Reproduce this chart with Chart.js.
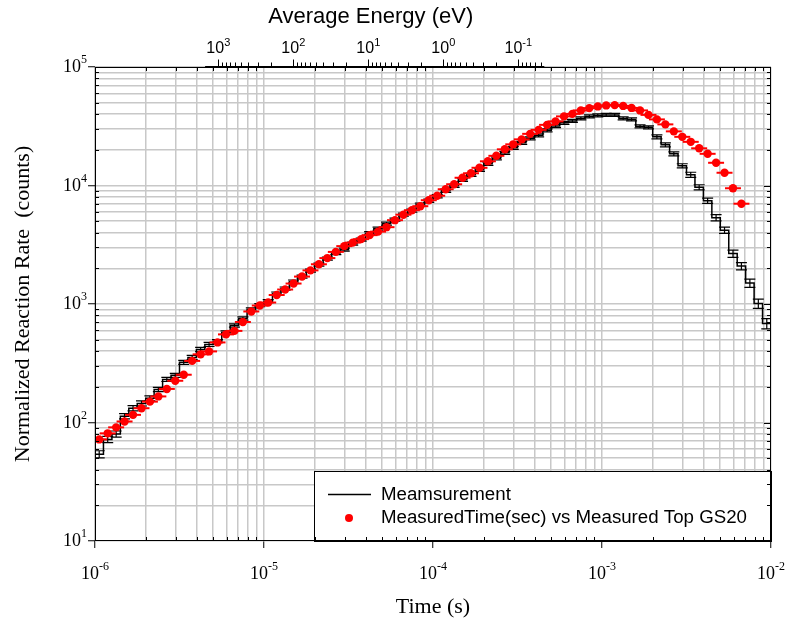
<!DOCTYPE html>
<html>
<head>
<meta charset="utf-8">
<script src="https://cdn.jsdelivr.net/npm/chart.js@4.4.1/dist/chart.umd.min.js"></script>
<style>
  html, body { margin: 0; padding: 0; background: #fff; }
</style>
</head>
<body>
<canvas id="chartCanvas" width="786" height="622"></canvas>
<script>
// time bins: 20 log-spaced bins per decade, centre mantissas
const binMantissa = [1.059, 1.189, 1.334, 1.496, 1.679, 1.884, 2.113, 2.371, 2.661, 2.985,
                     3.350, 3.758, 4.217, 4.732, 5.309, 5.957, 6.683, 7.499, 8.414, 9.441];
const binDecades = [-6, -5, -4, -3];

// black stepped curve (Meamsurement)
const measuredCounts = [
  54, 72, 80, 113, 132, 145, 160, 190, 231, 250,
  322, 354, 414, 456, 486, 575, 659, 755, 899, 977,
  1056, 1226, 1351, 1547, 1704, 1915, 2151, 2417, 2688, 2876,
  3232, 3493, 3963, 4323, 4763, 5148, 5672, 6130, 6884, 7439,
  8120, 9032, 9952, 11180, 12320, 13570, 15250, 16960, 18870, 20790,
  22910, 25000, 26500, 29200, 31800, 33770, 35100, 36840, 38300, 39050,
  39430, 39430, 36840, 36130, 31540, 30940, 25740, 22040, 18510, 14670,
  12320, 9667, 7439, 5350, 4200, 2662, 2089, 1503, 1010, 685
];
// error of the measurement, percent
const measuredErrPct = [
  7, 6, 6, 5, 5, 5, 5, 4, 4, 4,
  4, 4, 4, 4, 3, 3, 3, 3, 3, 3,
  3, 3, 3, 3, 3, 3, 3, 3, 3, 3,
  3, 3, 3, 3, 3, 3, 3, 3, 3, 3,
  3, 3, 3, 3, 3, 3, 3, 3, 3, 3,
  3, 3, 3, 3, 3, 3, 3, 3, 3, 3,
  3, 3, 3, 3, 3, 3, 4, 4, 4, 4,
  5, 5, 5, 6, 6, 7, 7, 8, 9, 10
];

// red points (MeasuredTime(sec) vs Measured Top GS20)
const gs20Counts = [
  72, 81, 91, 102, 116, 132, 150, 166, 192, 225,
  253, 331, 376, 398, 474, 554, 593, 705, 865, 971,
  1029, 1191, 1325, 1488, 1704, 1922, 2164, 2440, 2752, 3079,
  3295, 3527, 3812, 4079, 4451, 5098, 5672, 6189, 6689, 7512,
  8198, 9298, 10245, 11624, 12684, 14111, 16005, 17804, 20199, 22253,
  24517, 27282, 29486, 32485, 34765, 38302, 40200, 43020, 44990, 46490,
  47400, 47680, 46950, 45160, 43020, 39430, 36130, 32800, 28630, 25740,
  23360, 20600, 18510, 15550, 12810, 9480, 7020
];
const gs20TimeErr = 0.115;   // relative half width of the time bars

// axes
const tickMantissa = [1, 2, 3, 4, 5, 6, 7, 8, 9];
const timeDecades = [-6, -5, -4, -3];
const timeRange = [1e-6, 1e-2];
const countDecades = [1, 2, 3, 4];
const countRange = [10, 1e5];
const energyMajor = [1e3, 1e2, 1e1, 1e0, 1e-1];
const energyMinor = [900, 800, 700, 600, 500, 400, 300, 200,
                     90, 80, 70, 60, 50, 40, 30, 20,
                     9, 8, 7, 6, 5, 4, 3, 2,
                     0.9, 0.8, 0.7, 0.6, 0.5, 0.4, 0.3, 0.2,
                     0.09, 0.08, 0.07, 0.06, 0.05];
const energyAxisSpan = [1500, 0.045];
const energyLimits = [Math.pow(10, -4.369), Math.pow(10, 4.644)];

const timeBins = binDecades.flatMap(d => binMantissa.map(m => m * Math.pow(10, d)));

function logTicks(decades, last) {
  const t = [];
  decades.forEach(d => tickMantissa.forEach(m => t.push({value: m * Math.pow(10, d), major: m === 1})));
  t.push({value: last, major: true});
  return t;
}

const serif = "'Liberation Serif', 'Times New Roman', serif";
const sans = "'Liberation Sans', Arial, sans-serif";

const measuredLine = [{x: timeRange[0], y: measuredCounts[0]}]
  .concat(timeBins.map((t, i) => ({x: t, y: measuredCounts[i]})))
  .concat([{x: timeRange[1], y: measuredCounts[measuredCounts.length - 1]}]);
const gs20Points = gs20Counts.map((v, i) => ({x: timeBins[i], y: v}));

// "10" with a raised exponent
function drawPow(ctx, v, x, base, align, family, size, expSize, raise) {
  const exp = String(Math.round(Math.log10(v)));
  ctx.font = size + 'px ' + family;
  const w1 = ctx.measureText('10').width;
  ctx.font = expSize + 'px ' + family;
  const w2 = ctx.measureText(exp).width;
  let x0 = x;
  if (align === 'center') x0 = x - (w1 + w2) / 2;
  else if (align === 'right') x0 = x - (w1 + w2);
  ctx.textAlign = 'left';
  ctx.textBaseline = 'alphabetic';
  ctx.font = size + 'px ' + family;
  ctx.fillText('10', x0, base);
  ctx.font = expSize + 'px ' + family;
  ctx.fillText(exp, x0 + w1, base - raise);
}

const errorBars = {
  id: 'errorBars',
  afterDatasetDraw(chart, args) {
    if (args.index !== 1) return;
    const {ctx, chartArea: a, scales: {x, y}} = chart;
    ctx.save();
    ctx.beginPath();
    ctx.rect(a.left, a.top, a.right - a.left, a.bottom - a.top);
    ctx.clip();
    ctx.strokeStyle = '#000';
    ctx.lineWidth = 1.2;
    timeBins.forEach((t, i) => {
      const v = measuredCounts[i];
      const e = v * measuredErrPct[i] / 100;
      const px = x.getPixelForValue(t);
      const y1 = y.getPixelForValue(v - e);
      const y2 = y.getPixelForValue(v + e);
      ctx.beginPath();
      ctx.moveTo(px, y1); ctx.lineTo(px, y2);
      ctx.moveTo(px - 5.5, y1); ctx.lineTo(px + 5.5, y1);
      ctx.moveTo(px - 5.5, y2); ctx.lineTo(px + 5.5, y2);
      ctx.stroke();
    });
    ctx.strokeStyle = '#ff0000';
    ctx.lineWidth = 2;
    gs20Counts.forEach((v, i) => {
      const t = timeBins[i];
      const py = y.getPixelForValue(v);
      ctx.beginPath();
      ctx.moveTo(x.getPixelForValue(t / (1 + gs20TimeErr)), py);
      ctx.lineTo(x.getPixelForValue(t * (1 + gs20TimeErr)), py);
      ctx.stroke();
    });
    ctx.restore();
  }
};

const legendBox = {
  id: 'legendBox',
  afterDatasetsDraw(chart) {
    const {ctx, chartArea: a} = chart;
    const left = a.right - 457, top = a.bottom - 70;
    ctx.save();
    ctx.fillStyle = '#fff';
    ctx.fillRect(left, top, a.right - left, a.bottom - top);
    ctx.strokeStyle = '#000';
    ctx.lineWidth = 1;
    ctx.strokeRect(left + 0.5, top + 0.5, a.right - left, a.bottom - top);
    ctx.lineWidth = 1.5;
    ctx.beginPath();
    ctx.moveTo(left + 14, top + 23.5);
    ctx.lineTo(left + 57, top + 23.5);
    ctx.stroke();
    ctx.fillStyle = '#ff0000';
    ctx.beginPath();
    ctx.arc(left + 35, top + 47, 4, 0, Math.PI * 2);
    ctx.fill();
    ctx.fillStyle = '#000';
    ctx.font = '18.7px ' + sans;
    ctx.textBaseline = 'middle';
    ctx.textAlign = 'left';
    ctx.fillText('Meamsurement', left + 67, top + 23.5);
    ctx.fillText('MeasuredTime(sec) vs Measured Top GS20', left + 67, top + 47);
    ctx.restore();
  }
};

const frame = {
  id: 'frame',
  afterDraw(chart) {
    const {ctx, chartArea: a, scales: {x, y, x2}} = chart;
    ctx.save();
    ctx.strokeStyle = '#000';
    ctx.lineWidth = 1;
    ctx.strokeRect(a.left + 0.5, a.top + 0.5, a.right - a.left - 1, a.bottom - a.top - 1);
    ctx.beginPath();
    x.ticks.forEach(t => {
      if (t.major) return;
      const px = Math.round(x.getPixelForValue(t.value)) + 0.5;
      ctx.moveTo(px, a.bottom); ctx.lineTo(px, a.bottom - 4);
      ctx.moveTo(px, a.top); ctx.lineTo(px, a.top + 4);
    });
    y.ticks.forEach(t => {
      const py = Math.round(y.getPixelForValue(t.value)) + 0.5;
      const len = t.major ? 7 : 4;
      if (!t.major) { ctx.moveTo(a.left, py); ctx.lineTo(a.left + 4, py); }
      ctx.moveTo(a.right, py); ctx.lineTo(a.right - len, py);
    });
    ctx.stroke();

    // energy axis on top
    const e0 = x2.getPixelForValue(energyAxisSpan[0]);
    const e1 = x2.getPixelForValue(energyAxisSpan[1]);
    const ty = a.top - 0.5;
    ctx.beginPath();
    ctx.moveTo(e0, ty); ctx.lineTo(e1, ty);
    energyMajor.forEach(v => {
      const px = Math.round(x2.getPixelForValue(v)) + 0.5;
      ctx.moveTo(px, ty); ctx.lineTo(px, ty - 7);
    });
    energyMinor.forEach(v => {
      const px = Math.round(x2.getPixelForValue(v)) + 0.5;
      ctx.moveTo(px, ty); ctx.lineTo(px, ty - 4);
    });
    ctx.stroke();

    // tick labels
    ctx.fillStyle = '#000';
    x.ticks.forEach(t => {
      if (t.major) drawPow(ctx, t.value, x.getPixelForValue(t.value), a.bottom + 38, 'center', serif, 18, 12, 9.5);
    });
    y.ticks.forEach(t => {
      if (t.major) drawPow(ctx, t.value, a.left - 8, y.getPixelForValue(t.value) + 5, 'right', serif, 18, 12, 9);
    });
    energyMajor.forEach(v => {
      drawPow(ctx, v, x2.getPixelForValue(v), a.top - 14, 'center', sans, 16, 11, 7.5);
    });

    ctx.font = '22px ' + sans;
    ctx.textAlign = 'center';
    ctx.textBaseline = 'middle';
    ctx.fillText('Average Energy (eV)', (e0 + e1) / 2 - 4, 17);
    ctx.restore();
  }
};

const ctx = document.getElementById('chartCanvas').getContext('2d');

const chart = new Chart(ctx, {
  type: 'scatter',
  data: {
    datasets: [{
      label: 'MeasuredTime(sec) vs Measured Top GS20',
      data: gs20Points,
      order: 0,
      showLine: false,
      pointRadius: 4.2,
      pointBorderWidth: 0,
      pointBackgroundColor: '#ff0000',
      pointBorderColor: '#ff0000'
    }, {
      label: 'Meamsurement',
      type: 'line',
      data: measuredLine,
      order: 1,
      stepped: 'middle',
      borderColor: '#000',
      borderWidth: 1.5,
      pointRadius: 0,
      fill: false
    }]
  },
  options: {
    responsive: false,
    animation: false,
    events: [],
    layout: { padding: { left: 0, right: 15, top: 0, bottom: 0 } },
    plugins: {
      legend: { display: false },
      tooltip: { enabled: false }
    },
    scales: {
      x: {
        type: 'logarithmic',
        position: 'bottom',
        min: timeRange[0],
        max: timeRange[1],
        afterBuildTicks: s => { s.ticks = logTicks(timeDecades, timeRange[1]); },
        afterFit: s => { s.height = 81; },
        border: { display: false },
        grid: {
          color: '#c8c8c8',
          lineWidth: 1.5,
          tickLength: 7,
          tickWidth: 1,
          tickColor: c => (c.tick && c.tick.major ? '#000' : 'rgba(0,0,0,0)')
        },
        ticks: { display: false },
        title: {
          display: true,
          text: 'Time (s)',
          color: '#000',
          font: { family: serif, size: 22 },
          padding: { top: 0, bottom: 2 }
        }
      },
      x2: {
        type: 'logarithmic',
        position: 'top',
        reverse: true,
        min: energyLimits[0],
        max: energyLimits[1],
        afterBuildTicks: s => { s.ticks = energyMajor.map(v => ({value: v, major: true})); },
        afterFit: s => { s.height = 67; },
        border: { display: false },
        grid: { display: false, drawTicks: false, drawOnChartArea: false },
        ticks: { display: false }
      },
      y: {
        type: 'logarithmic',
        position: 'left',
        min: countRange[0],
        max: countRange[1],
        afterBuildTicks: s => { s.ticks = logTicks(countDecades, countRange[1]); },
        afterFit: s => { s.width = 95; },
        border: { display: false },
        grid: {
          color: '#c8c8c8',
          lineWidth: 1.5,
          tickLength: 7,
          tickWidth: 1,
          tickColor: c => (c.tick && c.tick.major ? '#000' : 'rgba(0,0,0,0)')
        },
        ticks: { display: false },
        title: {
          display: true,
          text: 'Normalized Reaction Rate  (counts)',
          color: '#000',
          font: { family: serif, size: 22 },
          padding: { top: 10, bottom: 0 }
        }
      }
    }
  },
  plugins: [errorBars, legendBox, frame]
});
</script>
</body>
</html>
